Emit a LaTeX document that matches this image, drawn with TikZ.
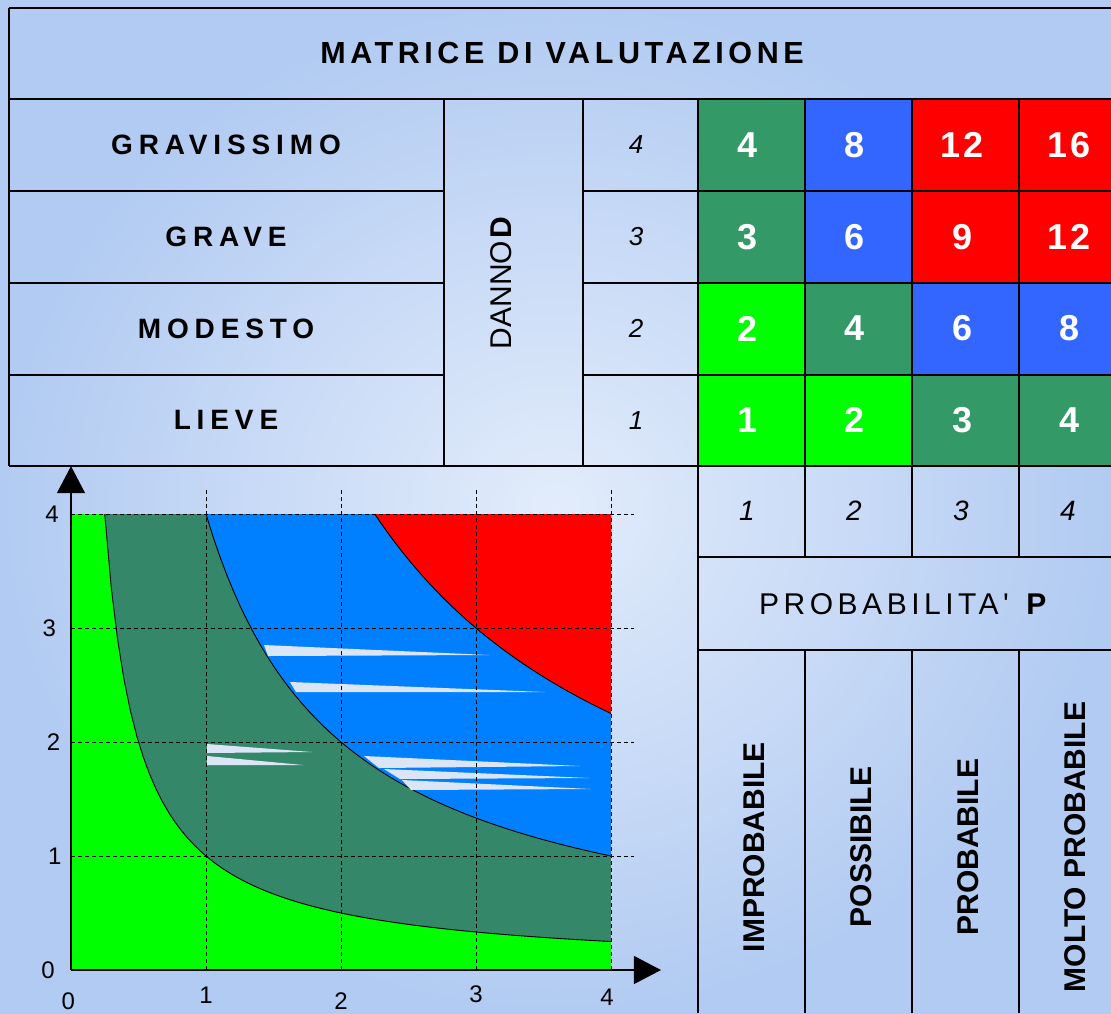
\documentclass[tikz,border=0pt]{standalone}
\usepackage{fontspec}
\setmainfont{Liberation Sans}
\newfontfamily\widefont[LetterSpace=15]{Liberation Sans}
\newfontfamily\widerfont[LetterSpace=21]{Liberation Sans}
\newfontfamily\numfont[LetterSpace=8]{Liberation Sans}
\usetikzlibrary{positioning,arrows.meta}

\definecolor{bgin}{HTML}{E2ECFB}
\definecolor{bgout}{HTML}{B2CBF2}
\definecolor{lgreen}{HTML}{00FF00}
\definecolor{dgreen}{HTML}{339966}
\definecolor{mblue}{HTML}{3366FF}
\definecolor{cgreen}{HTML}{35876A}
\definecolor{cblue}{HTML}{0080FF}
\definecolor{streak}{HTML}{DCE5F6}
\newcommand\fsz[1]{\fontsize{#1}{#1}\selectfont}

\begin{document}
\begin{tikzpicture}[x=1pt,y=-1pt,
  every node/.style={inner sep=0pt},
  tline/.style={line width=2pt},
  grid/.style={line width=0.8pt,dash pattern=on 4pt off 3pt},
  curve/.style={line width=0.9pt},
  axis/.style={line width=1.2pt,-{Triangle[length=27pt,width=28pt]}}]
\useasboundingbox (0,0) rectangle (1111,1013);
\shade[inner color=bgin,outer color=bgout] (0,0) rectangle (1111,1013);

% matrix of values
\foreach \c/\r/\v/\col [evaluate=\c as \xl using {698+107*(\c-1)},
    evaluate=\r as \yt using {466-91.75*\r}] in
  {1/4/4/dgreen, 2/4/8/mblue, 3/4/12/red, 4/4/16/red,
   1/3/3/dgreen, 2/3/6/mblue, 3/3/9/red, 4/3/12/red,
   1/2/2/lgreen, 2/2/4/dgreen, 3/2/6/mblue, 4/2/8/mblue,
   1/1/1/lgreen, 2/1/2/lgreen, 3/1/3/dgreen, 4/1/4/dgreen}
{
  \fill[\col] (\xl,\yt) rectangle +(107,91.75);
  \node[text=white,font=\fsz{36}\numfont\bfseries] (m\c\r) at (\xl+50,\yt+46) {\v};
}

% table lines
\draw[tline] (9,8) -- (1111,8);
\draw[tline] (9,8) -- (9,466);
\draw[tline] (9,99) -- (1111,99);
\draw[tline] (9,466) -- (1111,466);
\foreach \y in {191,283,375} {
  \draw[tline] (9,\y) -- (444,\y);
  \draw[tline] (583,\y) -- (1111,\y);
}
\draw[tline] (444,99) -- (444,466);
\draw[tline] (583,99) -- (583,466);
\draw[tline] (698,99) -- (698,1013);
\foreach \x in {805,912,1019} {
  \draw[tline] (\x,99) -- (\x,557);
  \draw[tline] (\x,650) -- (\x,1013);
}
\draw[tline] (698,557) -- (1111,557);
\draw[tline] (698,650) -- (1111,650);

% texts
\node (title) at (562,53) {\fsz{30.5}\widefont\bfseries MATRICE DI VALUTAZIONE};
\foreach \t [count=\i] in {GRAVISSIMO,GRAVE,MODESTO,LIEVE}
  \node (d\i) at (226,{145+91.75*(\i-1)}) {\fsz{28}\widerfont\bfseries \t};
\foreach \n [count=\i] in {4,3,2,1}
  \node (dn\n) at (636,{145+91.75*(\i-1)}) {\fsz{26}\itshape \n};
\node[rotate=90] (danno) at (501,283) {\fsz{30}DANNO\hspace{2pt}\textbf{D}};
\foreach \n in {1,2,3,4}
  \node (pn\n) at ({640+107*\n},511) {\fsz{28}\itshape \n};
\node (prob) at (905,604) {\fsz{30}\widefont PROBABILITA' \textbf{P}};
\foreach \t [count=\i] in {IMPROBABILE,POSSIBILE,PROBABILE,MOLTO PROBABILE}
  \node[rotate=90] (p\i) at ({647+107*\i},847) {\fsz{30}\bfseries \t};

% risk chart
\begin{scope}[shift={(71,970)},x=135pt,y=114pt]
  \fill[lgreen] (0,0) rectangle (4,4);
  \fill[cgreen] (0.25,4) -- plot[domain=0.25:4,samples=80] (\x,{1/\x}) -- (4,4) -- cycle;
  \fill[cblue] (1,4) -- plot[domain=1:4,samples=60] (\x,{4/\x}) -- (4,4) -- cycle;
  \fill[red] (2.25,4) -- plot[domain=2.25:4,samples=40] (\x,{9/\x}) -- (4,4) -- cycle;
  \draw[curve] plot[domain=0.25:4,samples=80] (\x,{1/\x});
  \draw[curve] plot[domain=1:4,samples=60] (\x,{4/\x});
  \draw[curve] plot[domain=2.25:4,samples=40] (\x,{9/\x});
\end{scope}

% glare streaks
\fill[streak] (264,645) -- (489,655) -- (268,656) -- cycle;
\fill[streak] (290,682) -- (545,692) -- (296,692) -- cycle;
\fill[streak] (207,744) -- (312,752) -- (207,753) -- cycle;
\fill[streak] (207,756) -- (303,765) -- (207,765) -- cycle;
\fill[streak] (364,756) -- (580,766) -- (379,768) -- cycle;
\fill[streak] (384,769) -- (589,778) -- (400,779) -- cycle;
\fill[streak] (402,780) -- (591,789) -- (411,790) -- cycle;

\begin{scope}[shift={(71,970)},x=135pt,y=114pt]
  \foreach \k in {1,2,3,4} {
    \draw[grid] (\k,0) -- (\k,4.21);
    \draw[grid] (0,\k) -- (4.17,\k);
  }
  \coordinate (o) at (0,0);
  \coordinate (ytip) at (0,4.42);
  \coordinate (xtip) at (4.37,0);
  \draw[axis] (o) -- (ytip);
  \draw[axis] (o) -- (xtip);
  \foreach \n/\dx/\dy in {0/-0.02/-0.27,1/0/-0.22,2/0/-0.27,3/0/-0.21,4/-0.03/-0.24}
    \node (xl\n) at (\n+\dx,\dy) {\fsz{24}\n};
  \foreach \n/\dx in {0/-0.17,1/-0.12,2/-0.13,3/-0.16,4/-0.14}
    \node (yl\n) at (\dx,\n) {\fsz{24}\n};
\end{scope}
\end{tikzpicture}
\end{document}
